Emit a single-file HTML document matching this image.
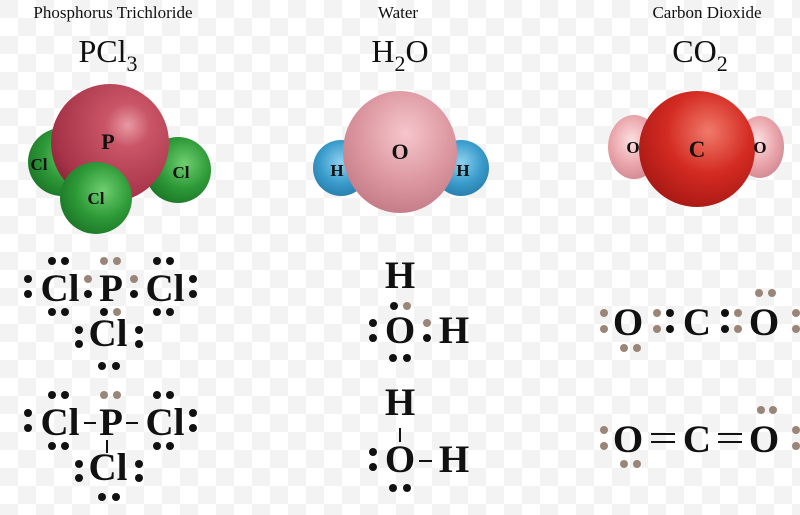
<!DOCTYPE html>
<html><head><meta charset="utf-8"><style>
html,body{margin:0;padding:0;background:#fff}
svg{display:block}
text{font-family:"Liberation Serif",serif;fill:#111}
</style></head><body>
<svg width="800" height="515" viewBox="0 0 800 515" xmlns="http://www.w3.org/2000/svg">
<defs>
<pattern id="ck" width="36" height="36" patternUnits="userSpaceOnUse">
<rect width="36" height="36" fill="#fff"/><rect width="18" height="18" fill="#f3f3f3"/><rect x="18" y="18" width="18" height="18" fill="#f3f3f3"/>
</pattern>
<radialGradient id="red" cx="0.65" cy="0.35" r="0.75"><stop offset="0" stop-color="#e89aa4"/><stop offset="0.25" stop-color="#c95566"/><stop offset="0.8" stop-color="#a8344a"/><stop offset="1" stop-color="#8a2236"/></radialGradient>
<radialGradient id="grn" cx="0.6" cy="0.4" r="0.75"><stop offset="0" stop-color="#6fcf6f"/><stop offset="0.5" stop-color="#2e9a38"/><stop offset="1" stop-color="#166a22"/></radialGradient>
<radialGradient id="pink" cx="0.55" cy="0.35" r="0.8"><stop offset="0" stop-color="#f6c6cc"/><stop offset="0.5" stop-color="#dc97a0"/><stop offset="1" stop-color="#b8707c"/></radialGradient>
<radialGradient id="blue" cx="0.5" cy="0.4" r="0.75"><stop offset="0" stop-color="#8fd1ee"/><stop offset="0.5" stop-color="#3a9ccc"/><stop offset="1" stop-color="#1f6e9a"/></radialGradient>
<radialGradient id="cred" cx="0.6" cy="0.35" r="0.8"><stop offset="0" stop-color="#f07a6a"/><stop offset="0.45" stop-color="#d42b22"/><stop offset="1" stop-color="#9a1210"/></radialGradient>
<radialGradient id="opk" cx="0.45" cy="0.4" r="0.75"><stop offset="0" stop-color="#fce0e2"/><stop offset="0.5" stop-color="#eaa6ac"/><stop offset="1" stop-color="#c77c86"/></radialGradient>
</defs>
<rect width="800" height="515" fill="url(#ck)"/>

<g font-size="17" text-anchor="middle" font-weight="bold">
<text x="113" y="18" font-weight="normal">Phosphorus Trichloride</text>
<text x="398" y="18" font-weight="normal">Water</text>
<text x="707" y="18" font-weight="normal">Carbon Dioxide</text>
</g>
<g font-size="32" text-anchor="middle">
<text x="108" y="62">PCl<tspan font-size="22" dy="9">3</tspan></text>
<text x="400" y="62">H<tspan font-size="22" dy="9">2</tspan><tspan dy="-9">O</tspan></text>
<text x="700" y="62">CO<tspan font-size="22" dy="9">2</tspan></text>
</g>

<circle cx="62" cy="162" r="34" fill="url(#grn)"/>
<circle cx="178" cy="170" r="33" fill="url(#grn)"/>
<circle cx="110" cy="143" r="59" fill="url(#red)"/>
<circle cx="96" cy="198" r="36" fill="url(#grn)"/>
<g font-size="17" text-anchor="middle" font-weight="bold">
<text x="108" y="149" font-size="22">P</text>
<text x="39" y="170">Cl</text>
<text x="181" y="178">Cl</text>
<text x="96" y="204">Cl</text>
</g>

<circle cx="341" cy="168" r="28" fill="url(#blue)"/>
<circle cx="461" cy="168" r="28" fill="url(#blue)"/>
<ellipse cx="400" cy="152" rx="57" ry="61" fill="url(#pink)"/>
<g font-size="17" text-anchor="middle" font-weight="bold">
<text x="400" y="159" font-size="22">O</text>
<text x="337" y="176">H</text>
<text x="463" y="176">H</text>
</g>

<ellipse cx="634" cy="147" rx="26" ry="32" fill="url(#opk)"/>
<ellipse cx="760" cy="147" rx="24" ry="31" fill="url(#opk)"/>
<circle cx="697" cy="149" r="58" fill="url(#cred)"/>
<g font-size="17" text-anchor="middle" font-weight="bold">
<text x="697" y="157" font-size="23">C</text>
<text x="633" y="153">O</text>
<text x="760" y="153">O</text>
</g>

<g font-size="39" text-anchor="middle" font-weight="bold">
<text x="60" y="301">Cl</text><text x="111" y="301">P</text><text x="165" y="301">Cl</text>
<text x="108" y="346">Cl</text>
<text x="60" y="435">Cl</text><text x="111" y="435">P</text><text x="165" y="435">Cl</text>
<text x="108" y="480">Cl</text>
<text x="400" y="288">H</text><text x="400" y="343">O</text><text x="454" y="343">H</text>
<text x="400" y="415">H</text><text x="400" y="472">O</text><text x="454" y="472">H</text>
<text x="628" y="335">O</text><text x="697" y="335">C</text><text x="764" y="335">O</text>
<text x="628" y="452">O</text><text x="697" y="452">C</text><text x="764" y="452">O</text>
</g>

<g stroke="#111" stroke-width="2">
<line x1="84" y1="423" x2="96" y2="423"/><line x1="126" y1="423" x2="138" y2="423"/>
<line x1="107" y1="440" x2="107" y2="453"/>
<line x1="400" y1="428" x2="400" y2="442"/>
<line x1="419" y1="461" x2="432" y2="461"/>
<line x1="651" y1="434" x2="675" y2="434"/><line x1="651" y1="442" x2="675" y2="442"/>
<line x1="718" y1="434" x2="742" y2="434"/><line x1="718" y1="442" x2="742" y2="442"/>
</g>

<g fill="#111">
<circle cx="52" cy="261" r="4"/><circle cx="65" cy="261" r="4"/>
<circle cx="52" cy="312" r="4"/><circle cx="65" cy="312" r="4"/>
<circle cx="28" cy="279" r="4"/><circle cx="28" cy="294" r="4"/>
<circle cx="88" cy="294" r="4"/><circle cx="134" cy="294" r="4"/>
<circle cx="157" cy="261" r="4"/><circle cx="170" cy="261" r="4"/>
<circle cx="157" cy="312" r="4"/><circle cx="170" cy="312" r="4"/>
<circle cx="193" cy="279" r="4"/><circle cx="193" cy="294" r="4"/>
<circle cx="104" cy="312" r="4"/>
<circle cx="79" cy="330" r="4"/><circle cx="79" cy="344" r="4"/>
<circle cx="139" cy="330" r="4"/><circle cx="139" cy="344" r="4"/>
<circle cx="102" cy="366" r="4"/><circle cx="116" cy="366" r="4"/>
<circle cx="52" cy="395" r="4"/><circle cx="65" cy="395" r="4"/>
<circle cx="52" cy="446" r="4"/><circle cx="65" cy="446" r="4"/>
<circle cx="28" cy="413" r="4"/><circle cx="28" cy="428" r="4"/>
<circle cx="157" cy="395" r="4"/><circle cx="170" cy="395" r="4"/>
<circle cx="157" cy="446" r="4"/><circle cx="170" cy="446" r="4"/>
<circle cx="193" cy="413" r="4"/><circle cx="193" cy="428" r="4"/>
<circle cx="79" cy="464" r="4"/><circle cx="79" cy="478" r="4"/>
<circle cx="139" cy="464" r="4"/><circle cx="139" cy="478" r="4"/>
<circle cx="102" cy="497" r="4"/><circle cx="116" cy="497" r="4"/>
<circle cx="394" cy="306" r="4"/>
<circle cx="373" cy="323" r="4"/><circle cx="373" cy="338" r="4"/>
<circle cx="427" cy="338" r="4"/>
<circle cx="393" cy="358" r="4"/><circle cx="407" cy="358" r="4"/>
<circle cx="373" cy="452" r="4"/><circle cx="373" cy="467" r="4"/>
<circle cx="393" cy="488" r="4"/><circle cx="407" cy="488" r="4"/>
<circle cx="670" cy="313" r="4"/><circle cx="670" cy="329" r="4"/>
<circle cx="725" cy="313" r="4"/><circle cx="725" cy="329" r="4"/>
</g>
<g fill="#9a8678">
<circle cx="88" cy="279" r="4"/><circle cx="134" cy="279" r="4"/>
<circle cx="104" cy="261" r="4"/><circle cx="117" cy="261" r="4"/>
<circle cx="117" cy="312" r="4"/>
<circle cx="104" cy="395" r="4"/><circle cx="117" cy="395" r="4"/>
<circle cx="407" cy="306" r="4"/><circle cx="427" cy="323" r="4"/>
<circle cx="604" cy="313" r="4"/><circle cx="604" cy="329" r="4"/>
<circle cx="624" cy="348" r="4"/><circle cx="637" cy="348" r="4"/>
<circle cx="657" cy="313" r="4"/><circle cx="657" cy="329" r="4"/>
<circle cx="738" cy="313" r="4"/><circle cx="738" cy="329" r="4"/>
<circle cx="759" cy="293" r="4"/><circle cx="772" cy="293" r="4"/>
<circle cx="796" cy="313" r="4"/><circle cx="796" cy="329" r="4"/>
<circle cx="604" cy="430" r="4"/><circle cx="604" cy="446" r="4"/>
<circle cx="624" cy="464" r="4"/><circle cx="637" cy="464" r="4"/>
<circle cx="761" cy="410" r="4"/><circle cx="773" cy="410" r="4"/>
<circle cx="796" cy="430" r="4"/><circle cx="796" cy="446" r="4"/>
</g>
</svg>
</body></html>
